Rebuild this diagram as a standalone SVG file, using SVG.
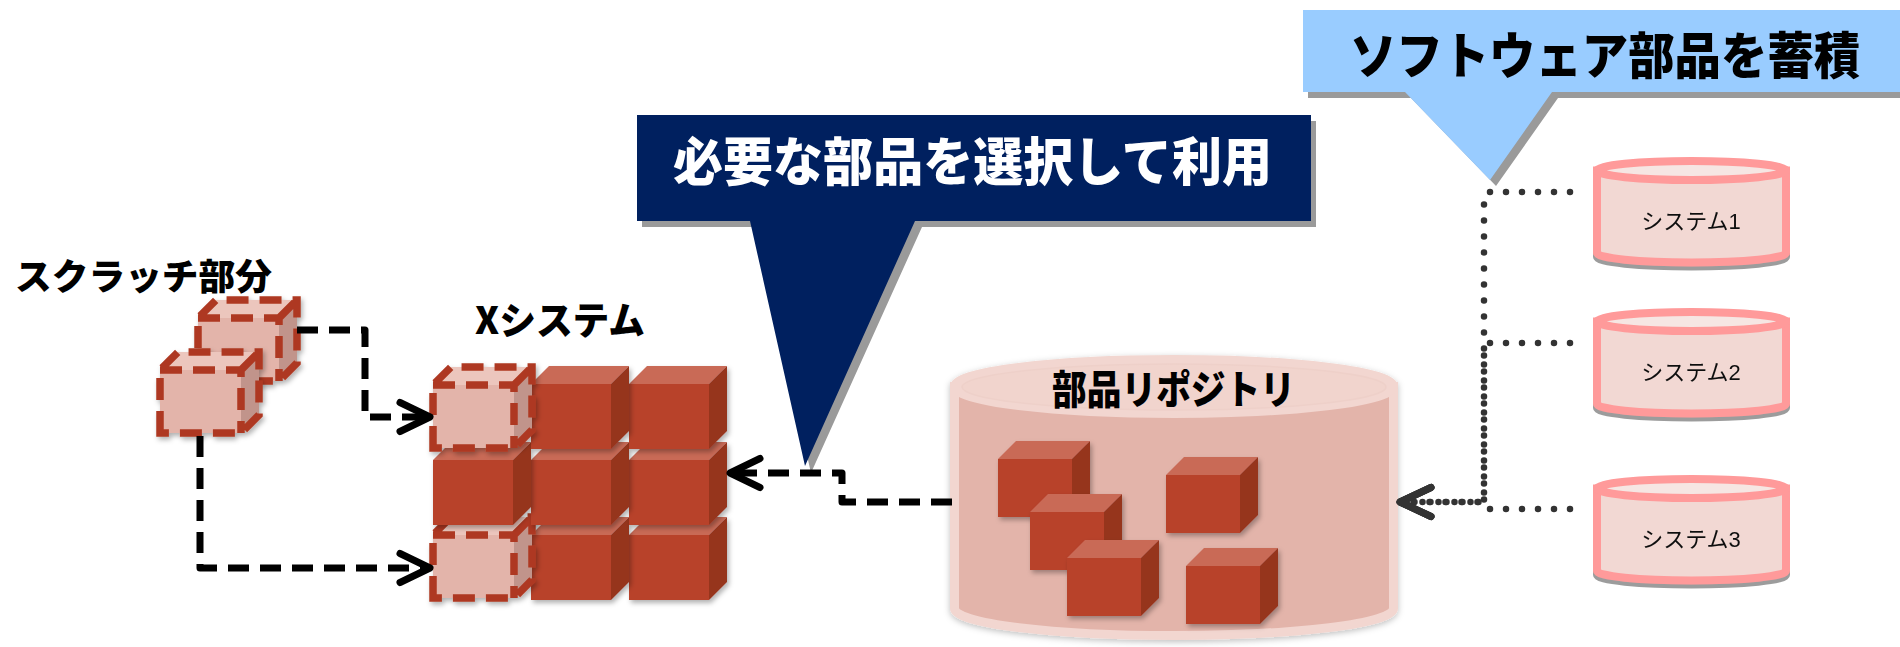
<svg xmlns="http://www.w3.org/2000/svg" xmlns:xlink="http://www.w3.org/1999/xlink" width="1900" height="647" viewBox="0 0 1900 647">
  <style>
    .bf { fill: #b8432a; }
    .bt { fill: #c96b56; }
    .br { fill: #96341f; }
    .gf { fill: #e3b4aa; }
    .gt { fill: #ecc6bd; }
    .gr { fill: #c1948b; }
    .gd { fill: none; stroke: #ae3921; stroke-width: 7.5; stroke-dasharray: 22 11; stroke-linejoin: miter; }
    .shadow { filter: url(#soft); }
    .label { font-family: 'Noto Sans CJK JP', sans-serif; font-weight: 900; fill: #000; }
    .sys-body { fill: #f2d8d3; stroke: #ff9a9a; stroke-width: 8; }
    .sys-top { fill: #f6e6e3; stroke: #ff9a9a; stroke-width: 8; }
    .sys-text { font-family: 'Liberation Sans', 'Noto Sans CJK JP', sans-serif; font-size: 22px; fill: #111; text-anchor: middle; }
    .dash { fill: none; stroke: #000; stroke-width: 7; stroke-dasharray: 21 11; stroke-linejoin: round; marker-end: url(#chev); }
    .dots { fill: none; stroke: #333; stroke-width: 6.5; stroke-dasharray: 0 16; stroke-linecap: round; stroke-linejoin: round; marker-end: url(#chev-dot); }
  </style>
  <defs>
    <filter id="soft" x="-20%" y="-20%" width="140%" height="150%">
      <feDropShadow dx="2" dy="3" stdDeviation="2.5" flood-color="#000" flood-opacity="0.3"/>
    </filter>
    <filter id="tank" x="-5%" y="-10%" width="110%" height="130%">
      <feDropShadow dx="0" dy="2" stdDeviation="3" flood-color="#000" flood-opacity="0.25"/>
    </filter>
    <filter id="rim" x="-5%" y="-10%" width="110%" height="130%">
      <feDropShadow dx="0" dy="4" stdDeviation="0.6" flood-color="#9c9c9c" flood-opacity="1"/>
    </filter>
    <marker id="chev" markerUnits="userSpaceOnUse" viewBox="-40 -25 50 50" markerWidth="50" markerHeight="50" refX="0" refY="0" orient="auto" overflow="visible">
      <path d="M-30,-14.5 L0,0 L-30,14.5" fill="none" stroke="#000" stroke-width="7" stroke-linecap="round" stroke-linejoin="round"/>
    </marker>
    <marker id="chev-dot" markerUnits="userSpaceOnUse" viewBox="-40 -25 50 50" markerWidth="50" markerHeight="50" refX="0" refY="0" orient="auto" overflow="visible">
      <path d="M-31,-14.5 L0,0 L-31,14.5" fill="none" stroke="#333" stroke-width="7" stroke-linecap="round" stroke-linejoin="round"/>
    </marker>
    <!-- solid building block, front face at origin -->
    <g id="brick">
      <polygon class="bt" points="0,0 18,-18 98,-18 80,0"/>
      <polygon class="br" points="80,0 98,-18 98,47 80,65"/>
      <rect class="bf" width="80" height="65"/>
    </g>
    <!-- smaller block stored in the repository -->
    <g id="part">
      <polygon class="bt" points="0,0 18,-18 92,-18 74,0"/>
      <polygon class="br" points="74,0 92,-18 92,40 74,58"/>
      <rect class="bf" width="74" height="58"/>
    </g>
    <!-- pale block with dashed outline (written from scratch) -->
    <g id="ghost">
      <polygon class="gt" points="0,0 18,-18 99,-18 81,0"/>
      <polygon class="gr" points="81,0 99,-18 99,45 81,63"/>
      <rect class="gf" width="81" height="63"/>
      <path class="gd" d="M0,63 V0 L18,-18 H99 V45 L81,63 Z M0,0 H81 V63 M81,0 L99,-18"/>
    </g>
  </defs>

  <rect width="1900" height="647" fill="#fff"/>

  <!-- callout: select and use the needed parts -->
  <g id="callout-use">
    <path d="M642,121 H1316 V227 H922 L811,473 L755,227 H642 Z" fill="#9a9a9a"/>
    <path d="M637,115 H1311 V221 H915 L805,466 L750,221 H637 Z" fill="#00205f"/>
    <text x="673" y="181" class="label" font-size="52" style="fill:#fff" textLength="599" lengthAdjust="spacingAndGlyphs">必要な部品を選択して利用</text>
  </g>

  <!-- callout: accumulate software parts -->
  <g id="callout-store">
    <path d="M1308,16 H1906 V98 H1558 L1496,186 L1411,98 H1308 Z" fill="#9a9a9a"/>
    <path d="M1303,10 H1900 V92 H1552 L1490,180 L1405,92 H1303 Z" fill="#99ccff"/>
    <text x="1350" y="74" class="label" font-size="50" textLength="510" lengthAdjust="spacingAndGlyphs">ソフトウェア部品を蓄積</text>
  </g>

  <!-- scratch-built parts -->
  <g id="scratch">
    <text x="15" y="290" class="label" font-size="36" textLength="257" lengthAdjust="spacingAndGlyphs">スクラッチ部分</text>
    <use xlink:href="#ghost" x="198" y="318" class="shadow"/>
    <use xlink:href="#ghost" x="160" y="370" class="shadow"/>
  </g>

  <!-- system X assembled from blocks -->
  <g id="x-system">
    <text x="475" y="334" class="label" font-size="38" textLength="170" lengthAdjust="spacingAndGlyphs">Xシステム</text>
    <use xlink:href="#brick" x="629" y="535" class="shadow"/>
    <use xlink:href="#brick" x="531" y="535" class="shadow"/>
    <use xlink:href="#ghost" x="433" y="535" class="shadow"/>
    <use xlink:href="#brick" x="629" y="460" class="shadow"/>
    <use xlink:href="#brick" x="531" y="460" class="shadow"/>
    <use xlink:href="#brick" x="433" y="460" class="shadow"/>
    <use xlink:href="#brick" x="629" y="384" class="shadow"/>
    <use xlink:href="#brick" x="531" y="384" class="shadow"/>
    <use xlink:href="#ghost" x="433" y="385" class="shadow"/>
  </g>

  <!-- parts repository -->
  <g id="repository">
    <g filter="url(#tank)">
      <path d="M954.5,386.5 V608.5 A219.5,27 0 0 0 1393.5,608.5 V386.5 Z" fill="#e3b4aa" stroke="#f2d6d0" stroke-width="9"/>
      <ellipse cx="1174" cy="386.5" rx="219.5" ry="27" fill="#f2d6d0" stroke="#f2d6d0" stroke-width="9"/>
    </g>
    <ellipse cx="1174" cy="387" rx="212" ry="23" fill="#f1d4cd" stroke="#eed0c9" stroke-width="1.5"/>
    <text x="1052" y="404" class="label" font-size="40" textLength="243" lengthAdjust="spacingAndGlyphs">部品リポジトリ</text>
    <use xlink:href="#part" x="998" y="459" class="shadow"/>
    <use xlink:href="#part" x="1030" y="512" class="shadow"/>
    <use xlink:href="#part" x="1067" y="558" class="shadow"/>
    <use xlink:href="#part" x="1166" y="475" class="shadow"/>
    <use xlink:href="#part" x="1186" y="566" class="shadow"/>
  </g>

  <!-- source systems -->
  <g id="system1" filter="url(#rim)">
    <path class="sys-body" d="M1597,170.5 V253 A94.5,9.5 0 0 0 1786,253 V170.5 Z"/>
    <ellipse class="sys-top" cx="1691.5" cy="170.5" rx="94.5" ry="9.5"/>
    <text class="sys-text" x="1691" y="229">システム1</text>
  </g>
  <g id="system2" filter="url(#rim)">
    <path class="sys-body" d="M1597,321.5 V404 A94.5,9.5 0 0 0 1786,404 V321.5 Z"/>
    <ellipse class="sys-top" cx="1691.5" cy="321.5" rx="94.5" ry="9.5"/>
    <text class="sys-text" x="1691" y="380">システム2</text>
  </g>
  <g id="system3" filter="url(#rim)">
    <path class="sys-body" d="M1597,488.5 V571 A94.5,9.5 0 0 0 1786,571 V488.5 Z"/>
    <ellipse class="sys-top" cx="1691.5" cy="488.5" rx="94.5" ry="9.5"/>
    <text class="sys-text" x="1691" y="547">システム3</text>
  </g>

  <!-- connectors -->
  <g id="connectors">
    <path class="dash" d="M297,330 H365 V417 H430"/>
    <path class="dash" d="M200,436 V568 H430"/>
    <path class="dash" d="M952,502 H842 V473 H730"/>
    <path class="dots" d="M1570,192 H1490 Q1484,192 1484,198 V502 H1400"/>
    <path class="dots" d="M1570,343 H1490 Q1484,343 1484,349 V502 H1400"/>
    <path class="dots" d="M1570,509 H1490 Q1484,509 1484,503 V502 H1400"/>
  </g>
</svg>
